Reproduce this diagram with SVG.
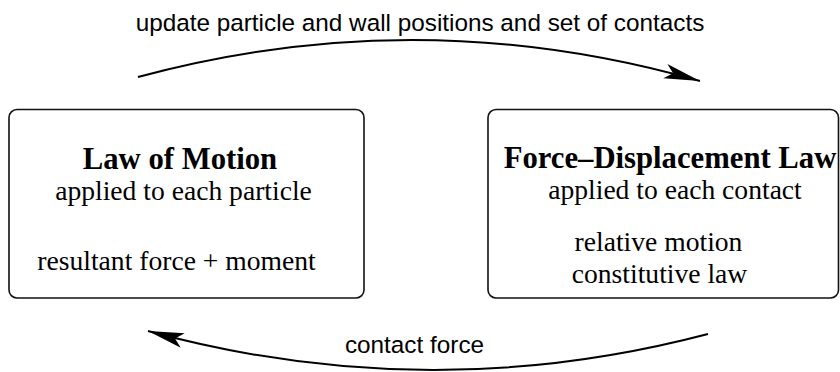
<svg xmlns="http://www.w3.org/2000/svg" width="840" height="372" viewBox="0 0 840 372">
  <style>
    .box { fill: #ffffff; stroke: #111111; stroke-width: 1.6; }
    .title { font-family: "Liberation Serif", "Times New Roman", serif; font-weight: bold; font-size: 30.7px; fill: #000; text-anchor: middle; }
    .body { font-family: "Liberation Serif", "Times New Roman", serif; font-size: 27.6px; fill: #000; text-anchor: middle; }
    .label { font-family: "Liberation Sans", Arial, sans-serif; font-size: 24.3px; fill: #000; text-anchor: middle; }
    .flow { fill: none; stroke: #000; stroke-width: 2; marker-end: url(#head); }
  </style>
  <defs>
    <marker id="head" markerUnits="userSpaceOnUse" viewBox="-38 -9 40 18" refX="0" refY="0" markerWidth="40" markerHeight="18" orient="auto">
      <path d="M0,0 L-36,-7.5 L-28,0 L-36,7.5 Z" fill="#000"/>
    </marker>
  </defs>

  <rect width="840" height="372" fill="#ffffff"/>

  <g id="law-of-motion">
    <rect class="box" x="9" y="109.5" width="355" height="188.5" rx="8" ry="8"/>
    <text class="title" x="180" y="169">Law of Motion</text>
    <text class="body" x="183.5" y="200">applied to each particle</text>
    <text class="body" x="176.5" y="270">resultant force + moment</text>
  </g>

  <g id="force-displacement-law">
    <rect class="box" x="488" y="109.5" width="350.5" height="188.5" rx="8" ry="8"/>
    <text class="title" x="670" y="168">Force–Displacement Law</text>
    <text class="body" x="675" y="199">applied to each contact</text>
    <text class="body" x="658.5" y="251">relative motion</text>
    <text class="body" x="659.5" y="283">constitutive law</text>
  </g>

  <g id="connectors">
    <path class="flow" d="M138,77 Q419,1 700,81"/>
    <text class="label" x="420" y="31">update particle and wall positions and set of contacts</text>
    <path class="flow" d="M708,334 Q428,407.5 148,331"/>
    <text class="label" x="414.5" y="353">contact force</text>
  </g>
</svg>
